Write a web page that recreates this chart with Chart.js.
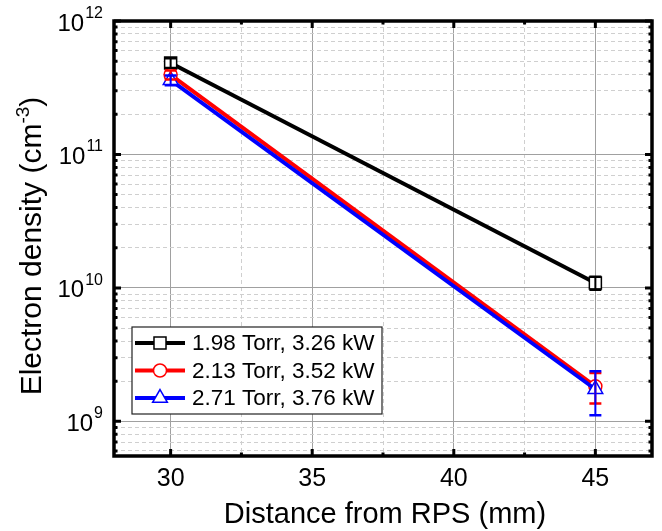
<!DOCTYPE html>
<html lang="en">
<head>
<meta charset="UTF-8">
<title>Electron density vs distance from RPS</title>
<style>
  html, body { margin: 0; padding: 0; background: #fff; }
  canvas { display: block; }
</style>
</head>
<body>
<canvas id="chart" width="662" height="531"></canvas>
<script src="https://cdn.jsdelivr.net/npm/chart.js"></script>
<script>
// --- data ---
const distances = [30, 45];
const seriesLabels = ['1.98 Torr, 3.26 kW', '2.13 Torr, 3.52 kW', '2.71 Torr, 3.76 kW'];
const seriesColors = ['#000000', '#ff0000', '#0000ff'];
const seriesMarkers = ['rect', 'circle', 'triangle'];
const density198 = [4.85e11, 1.09e10];
const density213 = [3.95e11, 1.83e9];
const density271 = [3.6e11, 1.74e9];
const error198 = [0.4e11, 0.12e10];
const error213 = [0.3e11, 0.47e9];
const error271 = [0.3e11, 0.63e9];

// axis ticks
const xMajorTicks = [30, 35, 40, 45];
const xMinorTicks = [32.5, 37.5, 42.5];
const yMajorTicks = [1e9, 1e10, 1e11, 1e12];
const yExponents = ['9', '10', '11', '12'];
const yMinorFactors = [2, 3, 4, 5, 6, 7, 8, 9];

const xTitle = 'Distance from RPS (mm)';
const yTitleMain = 'Electron density (cm';
const yTitleSup = '-3';
const yTitleEnd = ')';

const X_MIN = 28, X_MAX = 47;
const Y_MIN = 5.5e8, Y_MAX = 1e12;

const FONT = '"Liberation Sans", Arial, sans-serif';
const seriesValues = [density198, density213, density271];
const seriesErrors = [error198, error213, error271];
const markerRadius = [8.5, 6.5, 8.5];

function isDecade(v) {
  const l = Math.log10(v);
  return Math.abs(l - Math.round(l)) < 1e-6;
}

// y ticks: decades plus the 2..9 multiples inside the range
const yAllTicks = [];
yMajorTicks.forEach(d => {
  yAllTicks.push(d);
  yMinorFactors.forEach(f => yAllTicks.push(d * f / 10));
});
const yTickValues = yAllTicks.filter(v => v >= Y_MIN && v <= Y_MAX).sort((a, b) => a - b);
const xTickValues = xMajorTicks.concat(xMinorTicks).sort((a, b) => a - b);

const datasets = seriesValues.map((vals, s) => ({
  label: seriesLabels[s],
  data: distances.map((d, i) => ({ x: d, y: vals[i] })),
  borderColor: seriesColors[s],
  borderWidth: 4,
  pointStyle: seriesMarkers[s],
  pointRadius: markerRadius[s],
  pointBackgroundColor: '#ffffff',
  pointBorderColor: seriesColors[s],
  pointBorderWidth: 1.5,
  order: 2 - s,
  tension: 0
}));

// error bars, drawn through the scales
const errorBars = {
  id: 'errorBars',
  afterDatasetsDraw(chart) {
    const { ctx, scales: { x, y } } = chart;
    ctx.save();
    seriesValues.forEach((vals, s) => {
      ctx.strokeStyle = seriesColors[s];
      vals.forEach((v, i) => {
        const px = x.getPixelForValue(distances[i]);
        const top = y.getPixelForValue(v + seriesErrors[s][i]);
        const bot = y.getPixelForValue(v - seriesErrors[s][i]);
        ctx.lineWidth = 2;
        ctx.beginPath();
        ctx.moveTo(px, top); ctx.lineTo(px, bot);
        ctx.stroke();
        ctx.lineWidth = 2.5;
        ctx.beginPath();
        ctx.moveTo(px - 6, top); ctx.lineTo(px + 6, top);
        ctx.moveTo(px - 6, bot); ctx.lineTo(px + 6, bot);
        ctx.stroke();
      });
    });
    ctx.restore();
  }
};

// frame, inward ticks, y labels with exponents, axis titles, legend
const decorations = {
  id: 'decorations',
  afterDraw(chart) {
    const { ctx, chartArea: a, scales: { x, y } } = chart;
    ctx.save();
    ctx.strokeStyle = '#000';
    ctx.fillStyle = '#000';

    // inward ticks
    ctx.lineWidth = 3;
    ctx.beginPath();
    xTickValues.forEach(v => {
      const px = x.getPixelForValue(v);
      const len = xMajorTicks.includes(v) ? 7 : 3.5;
      ctx.moveTo(px, a.bottom); ctx.lineTo(px, a.bottom - len);
      ctx.moveTo(px, a.top); ctx.lineTo(px, a.top + len);
    });
    yTickValues.forEach(v => {
      const py = y.getPixelForValue(v);
      const len = isDecade(v) ? 7 : 3.5;
      ctx.moveTo(a.left, py); ctx.lineTo(a.left + len, py);
      ctx.moveTo(a.right, py); ctx.lineTo(a.right - len, py);
    });
    ctx.stroke();

    // frame
    ctx.lineWidth = 3.5;
    ctx.strokeRect(a.left, a.top, a.right - a.left, a.bottom - a.top);

    // y tick labels 10^n
    const baseFont = '24px ' + FONT, supFont = '16px ' + FONT;
    ctx.textAlign = 'left';
    ctx.textBaseline = 'alphabetic';
    yMajorTicks.forEach((v, i) => {
      const py = y.getPixelForValue(v);
      ctx.font = supFont;
      const ws = ctx.measureText(yExponents[i]).width;
      ctx.font = baseFont;
      const wb = ctx.measureText('10').width;
      const right = 103;
      ctx.fillText('10', right - ws - wb - 1, py + 9.5);
      ctx.font = supFont;
      ctx.fillText(yExponents[i], right - ws, py - 3);
    });

    // x title
    ctx.font = '29px ' + FONT;
    ctx.textAlign = 'center';
    ctx.fillText(xTitle, 385, 523);

    // y title, rotated, with superscript
    ctx.save();
    ctx.translate(41, 246);
    ctx.rotate(-Math.PI / 2);
    ctx.textAlign = 'left';
    const mainFont = '30px ' + FONT, smallFont = '19px ' + FONT;
    ctx.font = mainFont;
    const w1 = ctx.measureText(yTitleMain).width;
    const w3 = ctx.measureText(yTitleEnd).width;
    ctx.font = smallFont;
    const w2 = ctx.measureText(yTitleSup).width;
    let start = -(w1 + w2 + w3) / 2;
    ctx.font = mainFont;
    ctx.fillText(yTitleMain, start, 0);
    ctx.font = smallFont;
    ctx.fillText(yTitleSup, start + w1, -12);
    ctx.font = mainFont;
    ctx.fillText(yTitleEnd, start + w1 + w2, 0);
    ctx.restore();

    // legend box
    const lx = 132, ly = 327, lw = 250, lh = 87;
    ctx.fillStyle = '#fff';
    ctx.fillRect(lx, ly, lw, lh);
    ctx.lineWidth = 1.2;
    ctx.strokeStyle = '#222';
    ctx.strokeRect(lx, ly, lw, lh);
    const rowY = [343, 370.5, 398];
    ctx.font = '22.5px ' + FONT;
    ctx.textAlign = 'left';
    ctx.textBaseline = 'middle';
    seriesLabels.forEach((label, s) => {
      const ry = rowY[s];
      ctx.strokeStyle = seriesColors[s];
      ctx.lineWidth = 4;
      ctx.beginPath();
      ctx.moveTo(135, ry); ctx.lineTo(185, ry);
      ctx.stroke();
      ctx.fillStyle = '#fff';
      ctx.lineWidth = 1.5;
      Chart.helpers.drawPoint(ctx, { pointStyle: seriesMarkers[s], radius: markerRadius[s], rotation: 0, borderWidth: 1.5 }, 160, ry);
      ctx.fillStyle = '#000';
      ctx.fillText(label, 192, ry + 1);
    });
    ctx.restore();
  }
};

new Chart(document.getElementById('chart'), {
  type: 'line',
  data: { datasets },
  options: {
    responsive: false,
    animation: false,
    events: [],
    layout: { padding: { left: 0, top: 21, right: 9, bottom: 0 } },
    plugins: { legend: { display: false }, tooltip: { enabled: false } },
    scales: {
      x: {
        type: 'linear',
        min: X_MIN,
        max: X_MAX,
        afterBuildTicks: s => { s.ticks = xTickValues.map(v => ({ value: v })); },
        afterFit: s => { s.height = 75; },
        ticks: {
          color: '#000',
          font: { family: FONT, size: 25 },
          padding: 8,
          maxRotation: 0,
          autoSkip: false,
          callback: v => xMajorTicks.includes(v) ? String(v) : ''
        },
        grid: {
          drawTicks: false,
          color: c => xMajorTicks.includes(c.tick.value) ? '#a0a0a0' : '#cfcfcf',
          lineWidth: 1
        },
        border: {
          display: false,
          dash: c => (c.tick && xMajorTicks.includes(c.tick.value)) ? [] : [4, 3]
        }
      },
      y: {
        type: 'logarithmic',
        min: Y_MIN,
        max: Y_MAX,
        afterBuildTicks: s => { s.ticks = yTickValues.map(v => ({ value: v })); },
        afterFit: s => { s.width = 114; },
        ticks: { display: false },
        grid: {
          drawTicks: false,
          color: c => isDecade(c.tick.value) ? '#a0a0a0' : '#cfcfcf',
          lineWidth: 1
        },
        border: {
          display: false,
          dash: c => (c.tick && isDecade(c.tick.value)) ? [] : [4, 3]
        }
      }
    }
  },
  plugins: [errorBars, decorations]
});
</script>
</body>
</html>
